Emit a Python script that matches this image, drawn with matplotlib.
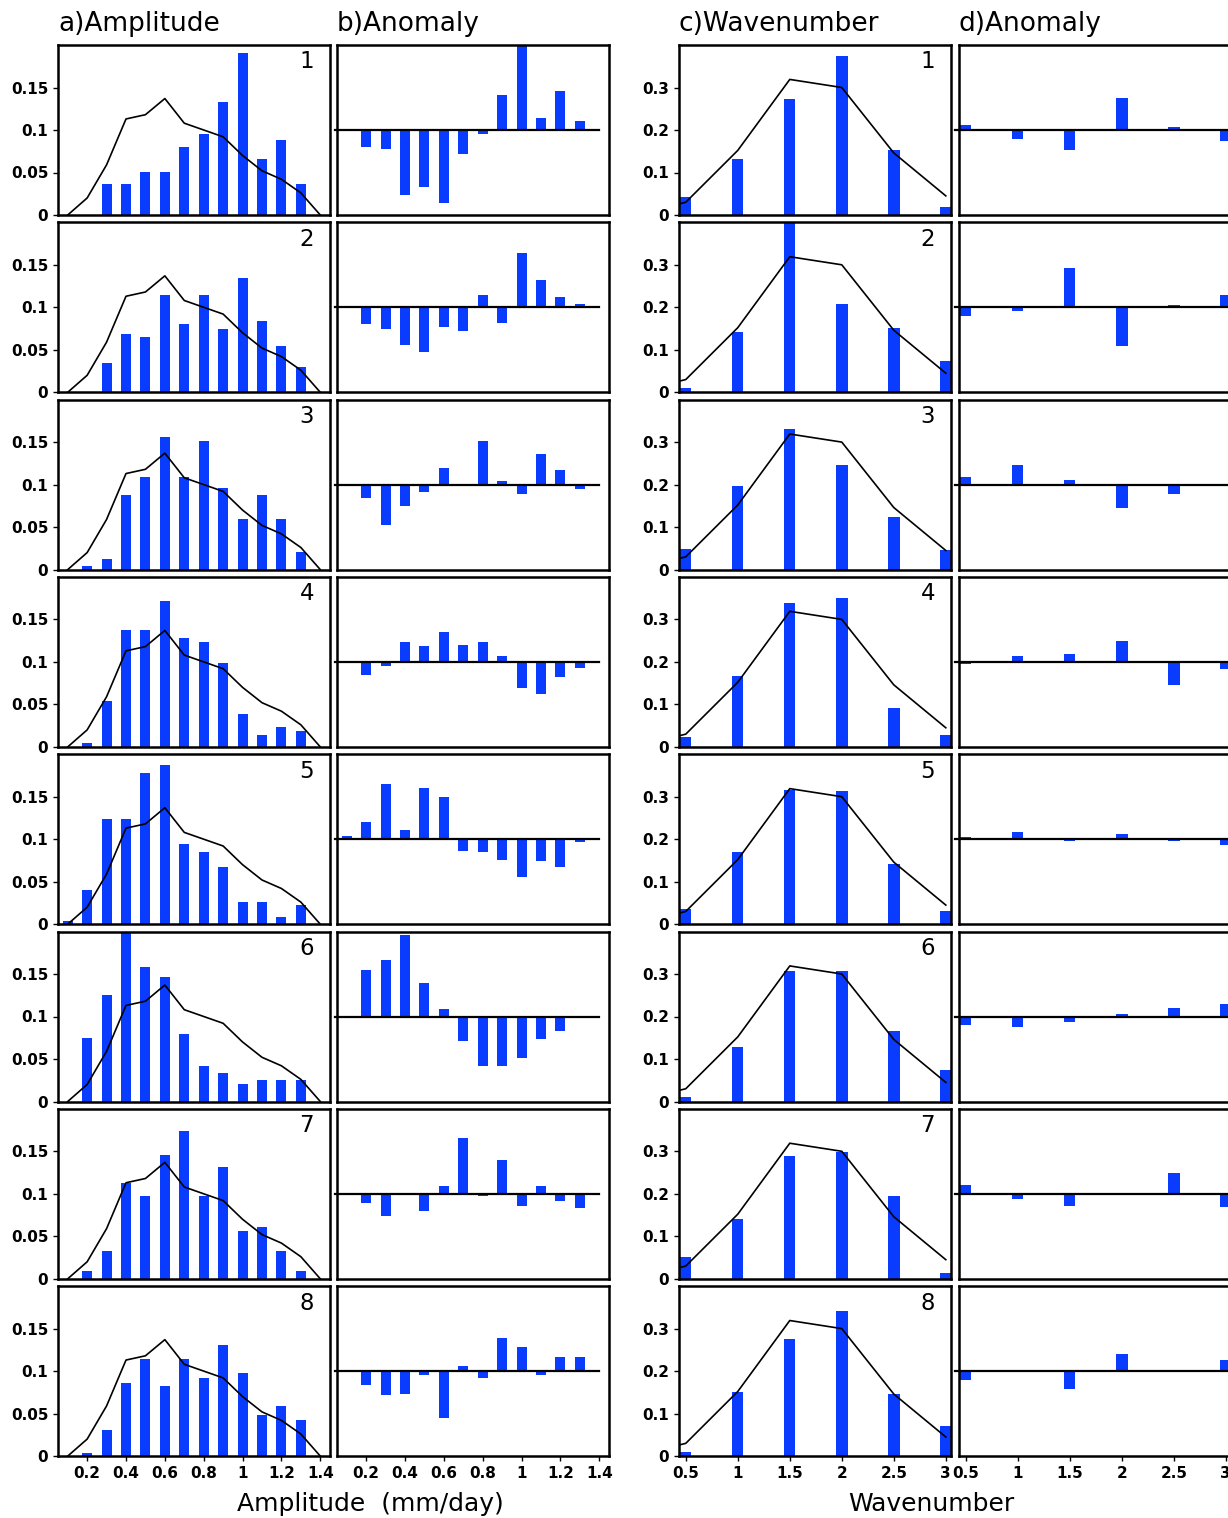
import numpy as np
import matplotlib.pyplot as plt

# amplitude bins (mm/day) and climatological frequency curve
amp_bins = [0.1, 0.2, 0.3, 0.4, 0.5, 0.6, 0.7, 0.8, 0.9, 1.0, 1.1, 1.2, 1.3]
amp_clim_x = [0.1, 0.2, 0.3, 0.4, 0.5, 0.6, 0.7, 0.8, 0.9, 1.0, 1.1, 1.2, 1.3, 1.4]
amp_clim = [0.0, 0.020, 0.059, 0.113, 0.118, 0.137, 0.108, 0.100, 0.092, 0.070, 0.052, 0.042, 0.026, 0.0]

# frequency of amplitude per phase (rows 1-8)
amp_freq = [
    [0.0, 0.0, 0.037, 0.037, 0.051, 0.051, 0.080, 0.095, 0.133, 0.191, 0.066, 0.088, 0.037],
    [0.0, 0.0, 0.034, 0.069, 0.065, 0.114, 0.080, 0.114, 0.074, 0.134, 0.084, 0.054, 0.030],
    [0.0, 0.004, 0.012, 0.088, 0.109, 0.156, 0.109, 0.151, 0.096, 0.059, 0.088, 0.059, 0.021],
    [0.0, 0.005, 0.054, 0.137, 0.137, 0.172, 0.128, 0.123, 0.099, 0.039, 0.014, 0.024, 0.019],
    [0.004, 0.040, 0.124, 0.124, 0.178, 0.187, 0.094, 0.085, 0.067, 0.026, 0.026, 0.009, 0.023],
    [0.0, 0.075, 0.125, 0.209, 0.158, 0.146, 0.079, 0.042, 0.034, 0.021, 0.025, 0.025, 0.025],
    [0.0, 0.009, 0.033, 0.113, 0.098, 0.146, 0.174, 0.098, 0.132, 0.056, 0.061, 0.033, 0.009],
    [0.0, 0.004, 0.031, 0.086, 0.114, 0.082, 0.114, 0.092, 0.131, 0.098, 0.048, 0.059, 0.043],
]

# wavenumber bins and climatological curve
wn_bins = [0.5, 1.0, 1.5, 2.0, 2.5, 3.0]
wn_clim_x = [0.0, 0.5, 1.0, 1.5, 2.0, 2.5, 3.0]
wn_clim = [0.0, 0.030, 0.152, 0.319, 0.300, 0.146, 0.045]

wn_freq = [
    [0.042, 0.131, 0.272, 0.375, 0.152, 0.019],
    [0.010, 0.143, 0.411, 0.208, 0.152, 0.073],
    [0.049, 0.197, 0.330, 0.246, 0.124, 0.045],
    [0.024, 0.167, 0.338, 0.350, 0.092, 0.029],
    [0.036, 0.170, 0.315, 0.313, 0.141, 0.031],
    [0.011, 0.128, 0.307, 0.307, 0.165, 0.074],
    [0.051, 0.140, 0.290, 0.299, 0.196, 0.014],
    [0.009, 0.152, 0.276, 0.341, 0.145, 0.070],
]

amp_ticks = [0.2, 0.4, 0.6, 0.8, 1.0, 1.2, 1.4]
amp_ticklabels = ['0.2', '0.4', '0.6', '0.8', '1', '1.2', '1.4']
wn_ticks = [0.5, 1.0, 1.5, 2.0, 2.5, 3.0]
wn_ticklabels = ['0.5', '1', '1.5', '2', '2.5', '3']

BLUE = '#0a3cff'
W, H = 1228, 1518
fig = plt.figure(figsize=(W / 100, H / 100), dpi=100)

col_left = [58, 337, 679, 959]
col_w = 272
row_top0 = 45
row_step = 177.3
row_h = 170


def make_ax(col, row):
    top = row_top0 + row * row_step
    return fig.add_axes([col_left[col] / W, 1 - (top + row_h) / H, col_w / W, row_h / H])


def style(ax, yticks=None, yticklabels=None, xticks=None, xticklabels=None, last=False):
    for s in ax.spines.values():
        s.set_linewidth(1.8)
    ax.tick_params(direction='out', length=3.5, width=1.0, labelsize=11)
    if yticks is not None:
        ax.set_yticks(yticks)
        ax.set_yticklabels(yticklabels, fontweight='bold')
    else:
        ax.set_yticks([])
    if last:
        ax.set_xticks(xticks)
        ax.set_xticklabels(xticklabels, fontweight='bold')
    else:
        ax.set_xticks([])


amp_clim_at_bins = np.interp(amp_bins, amp_clim_x, amp_clim)
wn_clim_at_bins = np.interp(wn_bins, wn_clim_x, wn_clim)

for r in range(8):
    last = r == 7
    # a) amplitude histogram with climatology
    ax = make_ax(0, r)
    ax.bar(amp_bins, amp_freq[r], width=0.052, color=BLUE, zorder=2)
    ax.plot(amp_clim_x, amp_clim, color='k', lw=1.2, zorder=3)
    ax.set_xlim(0.05, 1.45)
    ax.set_ylim(0, 0.2)
    style(ax, [0, 0.05, 0.1, 0.15], ['0', '0.05', '0.1', '0.15'], amp_ticks, amp_ticklabels, last)
    ax.text(0.915, 0.9, str(r + 1), transform=ax.transAxes, ha='center', va='center', fontsize=16.5)

    # b) amplitude anomaly
    ax = make_ax(1, r)
    anom = np.array(amp_freq[r]) - amp_clim_at_bins
    ax.bar(amp_bins, anom, width=0.052, color=BLUE, zorder=2)
    ax.plot([0.04, 1.4], [0, 0], color='k', lw=1.6, zorder=3, clip_on=False)
    ax.set_xlim(0.05, 1.45)
    ax.set_ylim(-0.1, 0.1)
    style(ax, xticks=amp_ticks, xticklabels=amp_ticklabels, last=last)

    # c) wavenumber histogram with climatology
    ax = make_ax(2, r)
    ax.bar(wn_bins, wn_freq[r], width=0.11, color=BLUE, zorder=2)
    ax.plot(wn_clim_x, wn_clim, color='k', lw=1.2, zorder=3)
    ax.set_xlim(0.435, 3.05)
    ax.set_ylim(0, 0.4)
    style(ax, [0, 0.1, 0.2, 0.3], ['0', '0.1', '0.2', '0.3'], wn_ticks, wn_ticklabels, last)
    ax.text(0.915, 0.9, str(r + 1), transform=ax.transAxes, ha='center', va='center', fontsize=16.5)

    # d) wavenumber anomaly
    ax = make_ax(3, r)
    anom = np.array(wn_freq[r]) - wn_clim_at_bins
    ax.bar(wn_bins, anom, width=0.11, color=BLUE, zorder=2)
    ax.plot([0.4, 3.05], [0, 0], color='k', lw=1.6, zorder=3, clip_on=False)
    ax.set_xlim(0.435, 3.05)
    ax.set_ylim(-0.2, 0.2)
    style(ax, xticks=wn_ticks, xticklabels=wn_ticklabels, last=last)

# column titles
for x, t in zip([58, 337, 679, 959], ['a)Amplitude', 'b)Anomaly', 'c)Wavenumber', 'd)Anomaly']):
    fig.text(x / W, 1 - 24 / H, t, ha='left', va='center', fontsize=19)

fig.text(370 / W, 1 - 1504 / H, 'Amplitude  (mm/day)', ha='center', va='center', fontsize=18)
fig.text(931 / W, 1 - 1504 / H, 'Wavenumber', ha='center', va='center', fontsize=18)

fig.savefig('out.png', dpi=100)
